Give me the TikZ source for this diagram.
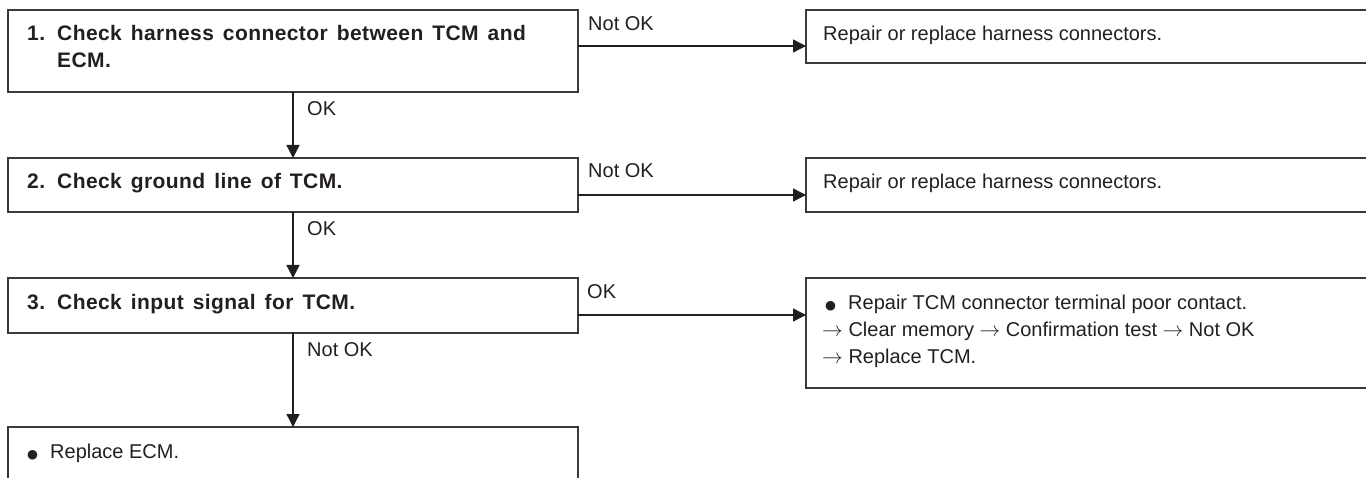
\documentclass[tikz,border=0pt]{standalone}
\usepackage{fontspec}
\setmainfont{Liberation Sans}
\newfontfamily\headfont{Liberation Sans}[LetterSpace=2]
\newfontfamily\symf{DejaVu Sans}
\usetikzlibrary{arrows.meta,calc}
\definecolor{ink}{HTML}{231F20}
\definecolor{edgec}{HTML}{3A3A3A}
\newcommand{\blt}{{\symf\fontsize{12.5}{12.5}\selectfont ●}}
\newcommand{\headset}{\headfont\bfseries\fontsize{21}{27}\selectfont\spaceskip=9pt plus 2pt\relax}
\begin{document}
\begin{tikzpicture}[x=1pt,y=-1pt,
  box/.style={draw=edgec,line width=2pt,anchor=north west,inner sep=0pt,outer sep=0pt},
  conn/.style={draw=ink,line width=1.4pt,-{Triangle[width=13pt,length=13pt]}},
  lbl/.style={anchor=base west,inner sep=0pt,text=ink,align=left,font=\fontsize{20}{27}\selectfont},
  head/.style={anchor=base west,inner sep=0pt,text=ink,align=left,font=\headset}]
\useasboundingbox (0,0) rectangle (1366,478);
\clip (0,0) rectangle (1366,478);
% left column boxes
\node[box,minimum width=570pt,minimum height=82pt] (b1) at (8,10) {};
\node[box,minimum width=570pt,minimum height=54pt] (b2) at (8,158) {};
\node[box,minimum width=570pt,minimum height=55pt] (b3) at (8,278) {};
\node[box,minimum width=570pt,minimum height=80pt] (b4) at (8,427) {};
% right column boxes (open on the right)
\node[box,minimum width=600pt,minimum height=53pt] (r1) at (806,10) {};
\node[box,minimum width=600pt,minimum height=54pt] (r2) at (806,158) {};
\node[box,minimum width=600pt,minimum height=110pt] (r3) at (806,278) {};
% box texts (base anchor = baseline of the last line)
\node[head] (t1) at ($(b1.north west)+(19,58)$) {\makebox[30pt][l]{1.}Check harness connector between TCM and\\\hspace*{30pt}ECM.};
\node[head] (t2) at ($(b2.north west)+(19,31)$) {\makebox[30pt][l]{2.}Check ground line of TCM.};
\node[head] (t3) at ($(b3.north west)+(19,32)$) {\makebox[30pt][l]{3.}Check input signal for TCM.};
\node[lbl] (t4) at ($(b4.north west)+(19,31)$) {\makebox[23pt][l]{\blt}Replace ECM.};
\node[lbl] (s1) at ($(r1.north west)+(17,31)$) {Repair or replace harness connectors.};
\node[lbl] (s2) at ($(r2.north west)+(17,31)$) {Repair or replace harness connectors.};
\node[lbl] (s3) at ($(r3.north west)+(16,85)$) {\makebox[26pt][l]{\hspace*{3pt}\blt}Repair TCM connector terminal poor contact.\\$\rightarrow$ Clear memory $\rightarrow$ Confirmation test $\rightarrow$ Not OK\\$\rightarrow$ Replace TCM.};
% vertical connectors
\draw[conn] (b1.south) -- (b2.north);
\draw[conn] (b2.south) -- (b3.north);
\draw[conn] (b3.south) -- (b4.north);
\node[lbl] (v1) at ($(b1.south)+(14,24)$) {OK};
\node[lbl] (v2) at ($(b2.south)+(14,24)$) {OK};
\node[lbl] (v3) at ($(b3.south)+(14,24)$) {Not OK};
% horizontal connectors
\coordinate (h1) at ($(b1.north east)+(0,36)$);
\coordinate (h2) at ($(b2.north east)+(0,37)$);
\coordinate (h3) at ($(b3.north east)+(0,37)$);
\draw[conn] (h1) -- (h1 -| r1.west);
\draw[conn] (h2) -- (h2 -| r2.west);
\draw[conn] (h3) -- (h3 -| r3.west);
\node[lbl] (n1) at ($(b1.north east)+(10,21)$) {Not OK};
\node[lbl] (n2) at ($(b2.north east)+(10,20)$) {Not OK};
\node[lbl] (n3) at ($(b3.north east)+(9,21)$) {OK};
\end{tikzpicture}
\end{document}
